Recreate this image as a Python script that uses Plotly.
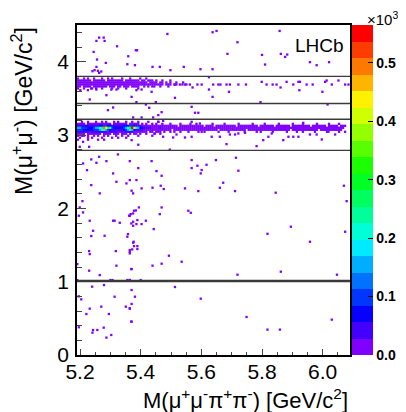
import colorsys
import plotly.graph_objects as go

# ---------------- data ----------------
x_range = [5.19, 6.09]
y_range = [0.0, 4.5]
x_tick_vals = [5.2, 5.4, 5.6, 5.8, 6.0]
x_tick_text = ["5.2", "5.4", "5.6", "5.8", "6.0"]
y_tick_vals = [0, 1, 2, 3, 4]
y_tick_text = ["0", "1", "2", "3", "4"]
cbar_tick_vals = [0, 100, 200, 300, 400, 500]
cbar_tick_text = ["0.0", "0.1", "0.2", "0.3", "0.4", "0.5"]
z_max = 565

# horizontal selection-window edges in M(mu mu)
window_edges = [1.01, 2.79, 3.215, 3.43, 3.80]

# isolated entries (one event per bin)
sparse_x = [
    5.488, 5.637, 5.650, 5.858, 5.719, 5.384, 5.388, 5.686, 5.800, 5.862, 5.876, 5.883, 5.381, 5.810, 5.958, 5.980, 6.021,
    5.439, 5.463, 5.542, 5.597, 5.637, 5.498,
    5.513, 5.529, 5.540, 5.546, 5.562, 5.571, 5.587, 5.601, 5.625, 5.639, 5.656, 5.663, 5.683, 5.694, 5.722, 5.747, 5.799,
    5.815, 5.835, 5.848, 5.861, 5.881, 5.903, 5.920, 5.925, 5.947, 5.967, 6.008, 6.013, 6.030, 6.052, 6.074, 6.085,
    5.386, 5.370, 5.403, 5.436, 5.625, 5.691, 5.923, 5.999, 5.513, 5.637, 5.795, 5.450, 5.386,
    5.428, 5.417, 5.458, 5.469, 5.568, 5.579, 5.590, 6.016, 5.403, 5.375, 5.441,
    5.458, 5.474, 5.568, 5.595, 5.936,
    5.370, 5.392, 5.447, 5.474, 5.496, 5.507, 5.518, 5.546, 5.568, 5.601, 5.634, 5.661, 5.683, 5.694, 5.711, 5.722, 5.744,
    5.782, 5.804, 5.821, 5.832, 5.870, 5.887, 5.903, 5.920, 5.958, 5.980, 5.997, 6.019, 6.041,
    5.436, 5.364, 5.392, 5.568, 5.568, 5.587, 5.601, 5.617, 5.598, 5.648, 5.714, 5.722, 5.452, 5.469, 5.364, 5.386, 5.403,
    5.439, 5.466, 5.476, 5.546, 5.672, 5.661, 5.711, 5.590, 5.845, 6.070, 5.370, 5.375,
    5.394, 5.384, 5.375, 5.364, 5.469, 5.463, 5.557, 5.565, 5.417, 5.403, 5.386, 5.375, 5.375, 5.443, 6.074, 6.079, 5.818,
    5.895, 5.958, 5.377, 5.389, 5.389, 5.364, 5.364, 5.493, 5.535, 5.469, 5.439, 5.370, 5.719, 5.862, 6.047, 5.400, 5.364,
    5.513, 5.370, 5.381, 5.598, 5.370, 5.364, 5.749, 6.030, 5.370, 5.818, 5.859,
    5.263, 5.278, 5.254, 5.281, 5.322, 5.245, 5.256, 5.285, 5.356, 5.359, 5.254, 5.241, 5.248, 5.259, 5.270, 5.263,
    5.201, 5.226, 5.237, 5.254, 5.287, 5.303, 5.320, 5.232, 5.292, 5.309,
    5.199, 5.230, 5.210,
    5.210, 5.237, 5.254, 5.263, 5.287, 5.325, 5.223, 5.309, 5.237, 5.265, 5.320, 5.353,
    5.208, 5.199, 5.196, 5.210, 5.232, 5.237, 5.243, 5.281, 5.309, 5.314, 5.331, 5.358, 5.356, 5.369, 5.362, 5.367, 5.378,
    5.389, 5.375, 5.372, 5.364, 5.378, 5.230, 5.232, 5.230, 5.265, 5.318, 5.320, 5.191, 5.369,
    5.191, 5.300, 5.307, 5.356, 5.364,
    5.240, 5.279, 5.204, 5.196, 5.232, 5.221, 5.270, 5.295, 5.314, 5.351, 5.364, 5.369, 5.196, 5.243, 5.241, 5.257, 5.278,
    5.287, 5.303,
]
sparse_y = [
    4.378, 4.401, 4.419, 4.419, 4.265, 4.156, 4.156, 4.106, 4.092, 4.106, 4.065, 4.097, 3.952, 3.961, 3.993, 3.952, 3.993,
    3.929, 3.929, 3.929, 3.897, 3.897, 3.884,
    3.688, 3.688, 3.716, 3.688, 3.688, 3.648, 3.688, 3.688, 3.788, 3.688, 3.688, 3.688, 3.688, 3.688, 3.688, 3.688, 3.725,
    3.688, 3.688, 3.688, 3.648, 3.725, 3.688, 3.725, 3.725, 3.688, 3.688, 3.725, 3.743, 3.688, 3.743, 3.688, 3.688,
    3.611, 3.520, 3.620, 3.589, 3.620, 3.589, 3.611, 3.589, 3.507, 3.520, 3.448, 3.448, 3.448,
    3.371, 3.416, 3.271, 3.312, 3.384, 3.303, 3.303, 3.416, 3.239, 3.239, 3.239,
    3.180, 3.193, 3.180, 3.157, 3.166,
    2.930, 2.867, 3.021, 2.976, 2.800, 2.966, 3.007, 2.966, 2.976, 3.044, 2.976, 2.976, 2.876, 3.007, 3.007, 3.021, 3.030,
    2.848, 2.930, 2.976, 3.021, 2.930, 2.976, 2.976, 2.976, 3.007, 3.007, 2.939, 3.044, 3.007,
    2.644, 2.644, 2.549, 2.658, 2.549, 2.581, 2.522, 2.594, 2.476, 2.658, 2.690, 2.513, 2.508, 2.444, 2.385, 2.385, 2.272,
    2.281, 2.308, 2.263, 2.272, 2.349, 2.281, 2.235, 2.235, 2.213, 2.308, 2.240, 2.204,
    2.012, 1.971, 1.930, 1.899, 2.012, 1.921, 1.967, 1.939, 1.831, 1.785, 1.785, 1.817, 1.762, 1.717, 1.681, 2.098, 1.653,
    1.749, 1.544, 1.544, 1.485, 1.445, 1.431, 1.386, 1.354, 1.272, 1.245, 1.218, 1.172, 1.095, 1.136, 1.095, 1.022, 1.022,
    0.927, 0.886, 0.795, 0.768, 0.696, 0.637, 0.518, 0.482, 0.455, 0.346, 0.346,
    4.328, 4.328, 4.283, 4.283, 4.210, 4.133, 4.029, 3.983, 3.965, 4.074, 3.929, 3.870, 3.884, 3.875, 3.866, 3.847,
    3.611, 3.611, 3.634, 3.620, 3.543, 3.620, 3.620, 3.484, 3.339, 3.375,
    2.839, 2.839, 2.907,
    2.612, 2.667, 2.621, 2.703, 2.644, 2.735, 2.521, 2.476, 2.317, 2.204, 2.362, 2.340,
    2.098, 2.012, 1.899, 1.944, 1.831, 1.622, 1.694, 1.626, 1.831, 1.831, 1.803, 1.649, 1.613, 1.794, 1.899, 1.921, 1.967,
    1.840, 1.531, 1.440, 1.408, 1.485, 1.417, 1.376, 1.150, 1.090, 1.417, 1.218, 1.240, 1.172,
    1.022, 1.022, 1.022, 1.022, 1.022,
    0.932, 0.954, 0.759, 0.800, 0.632, 0.559, 0.659, 0.559, 0.795, 0.659, 0.632, 0.455, 0.378, 0.341, 0.305, 0.341, 0.373,
    0.237, 0.273,
]
sparse_count = 1

# dense bands: histogram rows, one character per x bin (bin width below)
band_x_start = 5.19
band_bin_width = 0.00662
# character -> bin content
level_counts = {"1": 5, "2": 40, "3": 70, "4": 110, "5": 150, "6": 200, "7": 250,
                "8": 300, "9": 350, "a": 400, "b": 450, "c": 500, "d": 550}

jpsi_row_y = [3.179, 3.152, 3.125, 3.098, 3.071, 3.044, 3.017, 2.990, 2.963, 2.936]
jpsi_rows = [
    "..1..1...1..1.1...1.1...1..1..1....1....1",
    "1111.111111111111.1111111.11111.1.1..1.1..1...1....1....1..1.......1.....1......1......1.....1......1......1....1......1.....1....1..",
    "22223222222334433222222333443222111111111111111111.111111111111.1111.1111111111.1111111111.1111111.1111111.111111111.1111111.11111.111",
    "5544433345567cb864333334568da75332222111121111111111111111111111111111111111111111111111111111111111111111111111111111111111111111111",
    "44433333444566543222222345653222211111111111111.1111111111111111111111.1111111111111.111111111111111111111.1111111111111.11111111111",
    "22222212222222212222112122221111111.11.111.1..1.1..1...1....1..1......1....1.......1.....1.1.....1......1....1..1.....1.....1.....1..1",
    "1111.1111111.1111.111.111.1.11.1..1...1..1........",
    "1.11.1..1.1..1.1...1..1..1....1......1..",
    ".1...1.1....1....1..1...1.....",
    "1....1....1..1...",
]

psi2s_row_y = [3.770, 3.743, 3.716, 3.689, 3.662, 3.635]
psi2s_rows = [
    "1..1.1..1...1..1.1....1...1....1..1",
    "1111111.111111.11111111.1111111.11.111.1..1...1",
    "11111111111111111111111111111111111.1111.11.1.1..1",
    "1111111111111111111111111111111111111111111.111.11..1.1",
    "11.1111.1111111.111.11.111.1111..1.1.11..1...1",
    "1..1...1.1..1....1..1...1.....1",
]

# ---------------- build bins ----------------
pts = []
for x, y in zip(sparse_x, sparse_y):
    pts.append((x, y, sparse_count))
for rows_y, rows in ((jpsi_row_y, jpsi_rows), (psi2s_row_y, psi2s_rows)):
    for y, row in zip(rows_y, rows):
        for c, ch in enumerate(row):
            if ch in level_counts:
                pts.append((band_x_start + (c + 0.5) * band_bin_width, y, level_counts[ch]))
pts.sort(key=lambda p: p[2])
px = [p[0] for p in pts]
py = [p[1] for p in pts]
pz = [p[2] for p in pts]

# ROOT-like rainbow palette, 20 contour bands (violet -> red)
n_bands = 20
colorscale = []
for k in range(n_bands):
    h = (270.0 - k * 270.0 / (n_bands - 1)) / 360.0
    r, g, b = colorsys.hls_to_rgb(h, 0.5, 1.0)
    col = "rgb(%d,%d,%d)" % (round(r * 255), round(g * 255), round(b * 255))
    colorscale.append([k / n_bands, col])
    colorscale.append([(k + 1) / n_bands, col])

FONT = "Liberation Sans, Arial, Helvetica, sans-serif"

# the page body has an 8px default margin: figure is sized/offset to compensate
fig = go.Figure()
fig.add_trace(go.Scatter(
    x=px, y=py, mode="markers",
    marker=dict(
        symbol="square", size=2.3, color=pz, cmin=0, cmax=z_max,
        colorscale=colorscale, line=dict(width=0),
        showscale=True,
        colorbar=dict(
            thickness=21, thicknessmode="pixels",
            len=330, lenmode="pixels",
            x=1.006, xanchor="left", y=1.0, yanchor="top",
            xpad=0, ypad=0, outlinewidth=0,
            tickmode="array", tickvals=cbar_tick_vals, ticktext=cbar_tick_text,
            ticks="inside", ticklen=5, tickcolor="black", tickwidth=1,
            tickfont=dict(family=FONT, size=14, color="black", weight="bold"),
        ),
    ),
    hoverinfo="skip", showlegend=False,
))

shapes = []
for i, yv in enumerate(window_edges):
    shapes.append(dict(type="line", xref="paper", x0=0, x1=1, yref="y", y0=yv, y1=yv,
                       line=dict(color="#3a3a3a", width=2.6 if i == 0 else 1.4)))

fig.update_layout(
    width=398, height=404,
    margin=dict(l=69, r=56, t=17, b=57, autoexpand=False),
    paper_bgcolor="white", plot_bgcolor="white",
    shapes=shapes,
    xaxis=dict(
        range=x_range, tickmode="array", tickvals=x_tick_vals, ticktext=x_tick_text,
        ticks="inside", ticklen=6, tickwidth=1, tickcolor="#444",
        minor=dict(dtick=0.05, tick0=5.2, ticks="inside", ticklen=3, tickcolor="#444", showgrid=False),
        showgrid=False, zeroline=False,
        showline=True, mirror=True, linecolor="black", linewidth=1.5,
        tickfont=dict(family=FONT, size=21, color="black"),
        ticklabelstandoff=-3, automargin=False,
    ),
    yaxis=dict(
        range=y_range, tickmode="array", tickvals=y_tick_vals, ticktext=y_tick_text,
        ticks="inside", ticklen=9, tickwidth=1, tickcolor="#444",
        minor=dict(dtick=0.2, tick0=0, ticks="inside", ticklen=5, tickcolor="#444", showgrid=False),
        showgrid=False, zeroline=False,
        showline=True, mirror=True, linecolor="black", linewidth=1.5,
        tickfont=dict(family=FONT, size=21, color="black"),
        ticklabelstandoff=2, automargin=False,
    ),
    annotations=[
        dict(text="M(\u03bc<sup>+</sup>\u03bc<sup>-</sup>) [GeV/c<sup>2</sup>]", textangle=-90,
             xref="paper", yref="paper", x=-0.2015, y=1.0, xanchor="center", yanchor="top",
             showarrow=False, font=dict(family=FONT, size=23, color="black")),
        dict(text="M(\u03bc<sup>+</sup>\u03bc<sup>-</sup>\u03c0<sup>+</sup>\u03c0<sup>-</sup>) [GeV/c<sup>2</sup>]",
             xref="paper", yref="paper", x=1.0, y=-0.133, xanchor="right", yanchor="middle",
             showarrow=False, font=dict(family=FONT, size=22, color="black")),
        dict(text="LHCb", xref="paper", yref="paper", x=0.89, y=0.939, xanchor="center", yanchor="middle",
             showarrow=False, font=dict(family=FONT, size=19, color="black")),
        dict(text="\u00d710<sup>3</sup>", xref="paper", yref="paper", x=1.178, y=1.0515,
             xanchor="right", yanchor="top", borderpad=0,
             showarrow=False, font=dict(family=FONT, size=15, color="black")),
    ],
)

fig.write_html("out.html")
